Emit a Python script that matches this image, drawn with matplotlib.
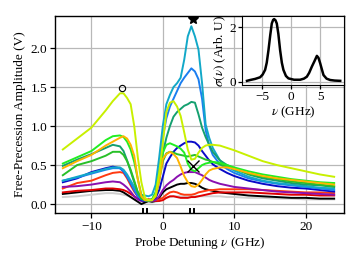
import matplotlib
matplotlib.use('Agg')
import matplotlib.pyplot as plt

plt.rcParams['font.family'] = ['Liberation Serif', 'DejaVu Serif']
plt.rcParams['mathtext.fontset'] = 'stix'
plt.rcParams['font.size'] = 9.5

# probe detuning (GHz), shared by all traces
detuning = [-14, -12, -10, -8, -7, -6, -5.5, -5, -4.5, -4, -3.5, -3, -2.5, -2, -1.5, -1, -0.5,
            0, 0.5, 1, 1.5, 2, 2.5, 3, 3.5, 4, 4.5, 5, 5.5, 6, 6.5, 7, 8, 9, 10, 12, 14, 16,
            18, 20, 22, 24]

gray = [0.09, 0.10, 0.12, 0.14, 0.14, 0.13, 0.12, 0.11, 0.09, 0.07, 0.05, 0.03, 0.02, 0.02, 0.02,
        0.03, 0.04, 0.06, 0.08, 0.09, 0.10, 0.10, 0.10, 0.10, 0.10, 0.10, 0.10, 0.10, 0.10, 0.10,
        0.10, 0.10, 0.10, 0.09, 0.09, 0.08, 0.08, 0.07, 0.07, 0.06, 0.06, 0.06]
black = [0.13, 0.15, 0.17, 0.18, 0.18, 0.17, 0.15, 0.12, 0.09, 0.06, 0.03, 0.00, 0.02, 0.04, 0.03,
         0.04, 0.08, 0.15, 0.19, 0.21, 0.23, 0.25, 0.26, 0.26, 0.27, 0.27, 0.26, 0.24, 0.21, 0.19,
         0.18, 0.17, 0.15, 0.14, 0.13, 0.11, 0.10, 0.09, 0.08, 0.08, 0.07, 0.07]
red = [0.15, 0.17, 0.18, 0.20, 0.20, 0.19, 0.18, 0.16, 0.13, 0.10, 0.07, 0.05, 0.05, 0.06, 0.05,
       0.04, 0.04, 0.05, 0.08, 0.10, 0.10, 0.09, 0.08, 0.08, 0.08, 0.09, 0.09, 0.10, 0.11, 0.12,
       0.13, 0.14, 0.15, 0.15, 0.15, 0.15, 0.14, 0.13, 0.12, 0.12, 0.11, 0.11]
red_orange = [0.20, 0.27, 0.30, 0.37, 0.40, 0.41, 0.40, 0.33, 0.24, 0.16, 0.10, 0.06, 0.05, 0.06,
              0.05, 0.05, 0.06, 0.08, 0.12, 0.15, 0.16, 0.15, 0.13, 0.12, 0.12, 0.12, 0.13, 0.15,
              0.16, 0.17, 0.18, 0.18, 0.19, 0.19, 0.19, 0.19, 0.18, 0.17, 0.16, 0.15, 0.15, 0.14]
purple = [0.22, 0.23, 0.25, 0.28, 0.29, 0.28, 0.25, 0.21, 0.16, 0.10, 0.06, 0.04, 0.04, 0.04, 0.04,
          0.05, 0.10, 0.18, 0.24, 0.28, 0.31, 0.35, 0.38, 0.40, 0.41, 0.41, 0.41, 0.39, 0.37, 0.34,
          0.31, 0.29, 0.26, 0.24, 0.22, 0.20, 0.18, 0.16, 0.15, 0.14, 0.13, 0.12]
dark_blue = [0.28, 0.33, 0.41, 0.46, 0.48, 0.46, 0.42, 0.35, 0.27, 0.18, 0.10, 0.05, 0.04, 0.04,
             0.05, 0.08, 0.18, 0.35, 0.52, 0.60, 0.67, 0.72, 0.75, 0.78, 0.80, 0.80, 0.79, 0.75,
             0.68, 0.62, 0.56, 0.51, 0.45, 0.40, 0.36, 0.30, 0.26, 0.23, 0.21, 0.20, 0.18, 0.16]
blue = [0.30, 0.34, 0.39, 0.44, 0.46, 0.46, 0.42, 0.35, 0.27, 0.18, 0.10, 0.06, 0.05, 0.05, 0.06,
        0.15, 0.45, 0.85, 1.10, 1.25, 1.35, 1.45, 1.55, 1.62, 1.68, 1.74, 1.70, 1.60, 1.35, 0.95,
        0.75, 0.63, 0.51, 0.45, 0.40, 0.33, 0.29, 0.26, 0.24, 0.22, 0.20, 0.18]
cyan = [0.30, 0.35, 0.40, 0.45, 0.47, 0.47, 0.44, 0.38, 0.30, 0.22, 0.15, 0.12, 0.11, 0.10, 0.12,
        0.25, 0.60, 1.00, 1.28, 1.40, 1.50, 1.55, 1.62, 1.85, 2.15, 2.28, 2.15, 1.98, 1.55, 1.02,
        0.85, 0.72, 0.56, 0.48, 0.43, 0.35, 0.30, 0.27, 0.25, 0.23, 0.21, 0.20]
teal = [0.49, 0.57, 0.64, 0.72, 0.76, 0.74, 0.68, 0.56, 0.42, 0.28, 0.15, 0.07, 0.05, 0.05, 0.06,
        0.12, 0.35, 0.65, 0.85, 1.00, 1.12, 1.18, 1.22, 1.26, 1.28, 1.31, 1.30, 1.15, 0.98, 0.86,
        0.76, 0.67, 0.56, 0.50, 0.46, 0.38, 0.33, 0.30, 0.27, 0.25, 0.24, 0.22]
green = [0.37, 0.50, 0.55, 0.62, 0.67, 0.67, 0.63, 0.55, 0.44, 0.30, 0.15, 0.07, 0.05, 0.04, 0.05,
         0.10, 0.30, 0.55, 0.65, 0.67, 0.66, 0.64, 0.63, 0.62, 0.61, 0.62, 0.63, 0.61, 0.59, 0.57,
         0.56, 0.54, 0.51, 0.48, 0.45, 0.39, 0.35, 0.32, 0.29, 0.27, 0.25, 0.23]
bright_green = [0.52, 0.60, 0.68, 0.82, 0.87, 0.88, 0.86, 0.80, 0.70, 0.54, 0.32, 0.12, 0.05, 0.05,
                0.06, 0.15, 0.40, 0.66, 0.76, 0.78, 0.76, 0.74, 0.71, 0.66, 0.52, 0.44, 0.42, 0.46,
                0.50, 0.52, 0.53, 0.54, 0.53, 0.50, 0.47, 0.42, 0.38, 0.35, 0.32, 0.30, 0.28, 0.27]
orange = [0.46, 0.55, 0.63, 0.75, 0.80, 0.85, 0.87, 0.84, 0.76, 0.62, 0.32, 0.10, 0.05, 0.05, 0.05,
          0.10, 0.30, 0.58, 0.64, 0.67, 0.64, 0.59, 0.48, 0.36, 0.28, 0.23, 0.22, 0.25, 0.31, 0.38,
          0.43, 0.45, 0.47, 0.47, 0.45, 0.40, 0.36, 0.33, 0.31, 0.29, 0.27, 0.25]
lime = [0.70, 0.84, 0.98, 1.20, 1.32, 1.42, 1.42, 1.36, 1.28, 1.00, 0.60, 0.28, 0.08, 0.05, 0.05,
        0.12, 0.40, 0.78, 1.18, 1.30, 1.32, 1.25, 1.13, 0.92, 0.70, 0.57, 0.58, 0.66, 0.72, 0.75,
        0.76, 0.76, 0.75, 0.72, 0.69, 0.62, 0.55, 0.50, 0.46, 0.42, 0.38, 0.35]

traces = [gray, black, red, red_orange, purple, dark_blue, blue, cyan, teal, green,
          bright_green, orange, lime]
trace_colors = ['#cfcfcf', '#000000', '#e00000', '#ff3a10', '#8a10b0', '#0a0ac8', '#1a7ef0',
                '#12a8c8', '#15a070', '#28c028', '#22ee22', '#ffb400', '#c8f000']

# markers on selected peaks
circle_pt = (-5.65, 1.49)
star_pt = (4.2, 2.37)
cross_pt = (4.25, 0.49)
# short bars under the axis (transition positions)
bar_pos = [-2.75, -2.15, 3.75, 4.35]

# inset: sigma(nu)
inset_nu = [-7.6, -7.07, -6.2, -5.34, -4.9, -4.48, -4.2, -3.9, -3.6, -3.33, -3.1, -2.93, -2.7, -2.47,
            -2.2, -1.9, -1.6, -1.33, -0.9, -0.47, 0.5, 1.55, 2.2, 2.7, 3.1, 3.57, 4.0, 4.43, 4.7,
            5.0, 5.3, 5.57, 6.1, 6.72, 7.5, 8.45]
inset_sigma = [0.04, 0.07, 0.11, 0.17, 0.27, 0.44, 0.7, 1.16, 1.7, 2.13, 2.26, 2.29, 2.25, 2.13,
               1.75, 1.16, 0.7, 0.44, 0.22, 0.13, 0.08, 0.08, 0.12, 0.19, 0.33, 0.56, 0.75, 0.95,
               0.88, 0.68, 0.45, 0.25, 0.12, 0.07, 0.05, 0.04]

fig = plt.figure(figsize=(3.57, 2.68), dpi=100)
ax = fig.add_axes([0.154, 0.205, 0.81, 0.735])

for vals, col in zip(traces, trace_colors):
    ax.plot(detuning, vals, color=col, lw=1.4, zorder=2)

ax.plot(*circle_pt, marker='o', ms=4.5, mfc='none', mec='k', mew=0.8, zorder=5)
ax.plot(*star_pt, marker='*', ms=7, color='k', zorder=5)
ax.plot(*cross_pt, marker='x', ms=8, color='k', mew=1.0, zorder=5)
ax.vlines(bar_pos, -0.115, -0.045, color='k', lw=1.4, zorder=5)

ax.set_xlim(-15.1, 25.4)
ax.set_ylim(-0.115, 2.41)
ax.set_xticks([-10, 0, 10, 20])
ax.set_yticks([0.0, 0.5, 1.0, 1.5, 2.0])
ax.set_xticklabels(['\u221210', '0', '10', '20'])
ax.set_yticklabels(['0.0', '0.5', '1.0', '1.5', '2.0'])
ax.grid(True, color='#b8b8b8', lw=0.9)
ax.set_axisbelow(True)
ax.tick_params(direction='out', length=3.5, width=0.9, pad=2)
for s in ax.spines.values():
    s.set_linewidth(1.0)
ax.set_xlabel(r'Probe Detuning $\nu$ (GHz)', labelpad=2)
ax.set_ylabel('Free-Precession Amplitude (V)', labelpad=3)

ins = fig.add_axes([0.678, 0.683, 0.2856, 0.257])
ins.plot(inset_nu, inset_sigma, color='k', lw=1.8)
ins.set_xlim(-8.45, 9.1)
ins.set_ylim(-0.11, 2.4)
ins.set_xticks([-5, 0, 5])
ins.set_xticklabels(['\u22125', '0', '5'])
ins.set_yticks([0, 2])
ins.grid(True, color='#b8b8b8', lw=0.9)
ins.set_axisbelow(True)
ins.tick_params(direction='out', length=3, width=0.9, pad=1.5)
ins.set_xlabel(r'$\nu$ (GHz)', labelpad=1)
ins.set_ylabel(r'$\sigma(\nu)$ (Arb. U)', labelpad=1)

fig.savefig('out.png', dpi=100)
